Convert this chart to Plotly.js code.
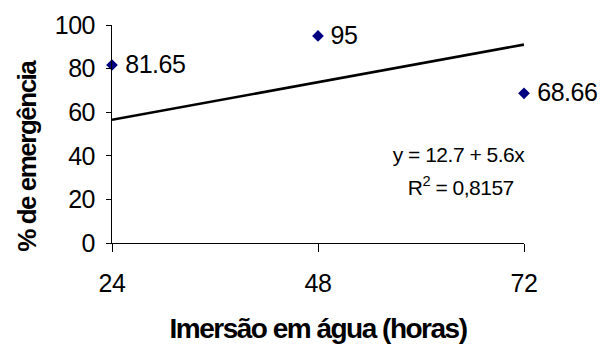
<!DOCTYPE html>
<html>
<head>
<meta charset="utf-8">
<script src="https://cdn.plot.ly/plotly-3.0.1.min.js"></script>
<style>
html,body{margin:0;padding:0;background:#fff;}
#chart{width:605px;height:348px;}
#chart .xtick text, #chart .ytick text{letter-spacing:-0.5px;}
#chart .annotation-text{letter-spacing:-0.5px;}
#chart .xtitle{letter-spacing:-1.5px;}
#chart .annotation.ytitle-ann .annotation-text{letter-spacing:-1.5px;}
</style>
</head>
<body>
<div id="chart"></div>
<script>
const hours = [24, 48, 72];
const emergence = [81.65, 95, 68.66];
const pointLabels = ['81.65', '95', '68.66'];
const trendX = [24, 72];
const trendY = [56.5, 91];
const yTicks = [0, 20, 40, 60, 80, 100];
const equationText = 'y = 12.7 + 5.6x';
const r2Text = 'R<sup>2</sup> = 0,8157';
const xTitle = 'Imersão em água (horas)';
const yTitle = '% de emergência';

const FONT = 'Arial, "Liberation Sans", sans-serif';

const data = [
  {
    x: trendX, y: trendY, mode: 'lines', type: 'scatter',
    line: {color: '#000000', width: 2.6}, hoverinfo: 'skip', cliponaxis: false
  },
  {
    x: hours, y: emergence, mode: 'markers', type: 'scatter',
    marker: {symbol: 'diamond', size: 9, color: '#000080'},
    cliponaxis: false
  }
];

const pointAnnotations = hours.map((h, i) => ({
  xref: 'x', yref: 'y', x: h, y: emergence[i], text: pointLabels[i],
  showarrow: false, xanchor: 'left', yanchor: 'middle', xshift: 10, yshift: 1,
  font: {family: FONT, size: 25, color: '#000000'}
}));

const layout = {
  width: 605, height: 348,
  margin: {l: 112, r: 81, t: 25, b: 105},
  paper_bgcolor: '#ffffff', plot_bgcolor: '#ffffff',
  showlegend: false,
  font: {family: FONT, color: '#000000'},
  xaxis: {
    range: [24, 72], tickvals: hours, ticktext: hours.map(String),
    showgrid: false, zeroline: false, showline: true, linecolor: '#000000', linewidth: 1,
    ticks: 'outside', ticklen: 8, tickcolor: '#000000', tickwidth: 1,
    tickfont: {family: FONT, size: 25, color: '#000000'},
    ticklabelstandoff: 10,
    title: {text: '<b>' + xTitle + '</b>', font: {family: FONT, size: 28, color: '#000000'}, standoff: 22}
  },
  yaxis: {
    range: [0, 100], tickvals: yTicks,
    showgrid: false, zeroline: false, showline: true, linecolor: '#000000', linewidth: 1,
    ticks: 'outside', ticklen: 5, tickcolor: '#000000', tickwidth: 1,
    tickfont: {family: FONT, size: 25, color: '#000000'},
    ticklabelstandoff: 6
  },
  annotations: pointAnnotations.concat([
    {xref: 'paper', yref: 'paper', x: 0.842, y: 0.408, text: equationText, showarrow: false,
     font: {family: FONT, size: 21, color: '#000000'}, xanchor: 'center', yanchor: 'middle'},
    {xref: 'paper', yref: 'paper', x: 0.847, y: 0.261, text: r2Text, showarrow: false,
     font: {family: FONT, size: 21, color: '#000000'}, xanchor: 'center', yanchor: 'middle'},
    {xref: 'paper', yref: 'paper', x: (27 - 112) / 412, y: 0.395, text: '<b>' + yTitle + '</b>',
     textangle: -90, showarrow: false, xanchor: 'center', yanchor: 'middle',
     font: {family: FONT, size: 26, color: '#000000'}}
  ])
};

Plotly.newPlot('chart', data, layout, {displayModeBar: false, staticPlot: true}).then(() => {
  const anns = document.querySelectorAll('#chart .annotation');
  const last = anns[anns.length - 1];
  if (last) last.classList.add('ytitle-ann');
});
</script>
</body>
</html>
